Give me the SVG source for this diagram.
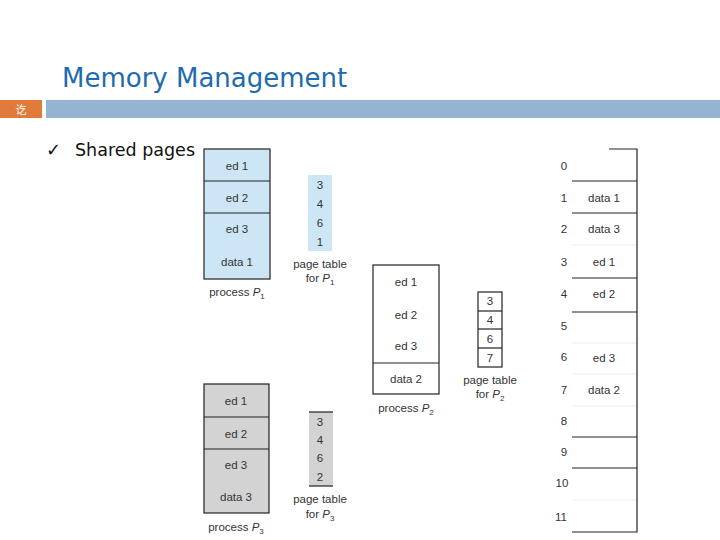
<svg xmlns="http://www.w3.org/2000/svg" width="720" height="540" viewBox="0 0 720 540">
<style>
.t{font-family:"Liberation Sans",Arial,sans-serif;font-size:11.5px;fill:#333;text-anchor:middle}
.ln{stroke:#222;stroke-width:1.2;fill:none}
.fl{stroke:#eee;stroke-width:1}
.blue{fill:#CDE6F5}
.gray{fill:#D3D3D3}
</style>
<rect width="720" height="540" fill="#fff"/>
<g id="header">
<text x="62" y="87" font-family="'DejaVu Sans',Verdana,sans-serif" font-size="26" fill="#1F6BB0">Memory Management</text>
<rect x="0" y="100" width="42" height="18" fill="#E07B3C"/>
<text x="21" y="114" font-family="'Noto Sans CJK SC',sans-serif" font-size="11" fill="#fff" text-anchor="middle">讫</text>
<rect x="46" y="100" width="674" height="18" fill="#95B3D3"/>
<text x="46" y="156" font-family="'DejaVu Sans',sans-serif" font-size="18" fill="#111">✓</text>
<text x="75" y="156" font-family="'DejaVu Sans',Verdana,sans-serif" font-size="17.5" fill="#111">Shared pages</text>
</g>
<g id="process-p1">
<rect x="204" y="149" width="66" height="130" class="blue"/>
<rect x="204" y="149" width="66" height="130" class="ln"/>
<line x1="204" y1="181" x2="270" y2="181" class="ln"/>
<line x1="204" y1="213" x2="270" y2="213" class="ln"/>
<text x="237" y="170" class="t">ed 1</text>
<text x="237" y="202" class="t">ed 2</text>
<text x="237" y="233" class="t">ed 3</text>
<text x="237" y="266" class="t">data 1</text>
<text x="237" y="296" class="t">process <tspan font-style="italic">P</tspan><tspan font-size="8" dy="3">1</tspan></text>
</g>
<g id="pagetable-p1">
<rect x="308" y="175" width="24" height="76" class="blue"/>
<text x="320" y="189" class="t">3</text>
<text x="320" y="208" class="t">4</text>
<text x="320" y="227" class="t">6</text>
<text x="320" y="246" class="t">1</text>
<text x="320" y="268" class="t">page table</text>
<text x="320" y="282" class="t">for <tspan font-style="italic">P</tspan><tspan font-size="8" dy="3">1</tspan></text>
</g>
<g id="process-p2">
<rect x="373" y="265" width="66" height="129" fill="#fff"/>
<rect x="373" y="265" width="66" height="129" class="ln"/>
<line x1="373" y1="363" x2="439" y2="363" class="ln"/>
<text x="406" y="286" class="t">ed 1</text>
<text x="406" y="319" class="t">ed 2</text>
<text x="406" y="350" class="t">ed 3</text>
<text x="406" y="383" class="t">data 2</text>
<text x="406" y="412" class="t">process <tspan font-style="italic">P</tspan><tspan font-size="8" dy="3">2</tspan></text>
</g>
<g id="pagetable-p2">
<rect x="478" y="292" width="24" height="75" class="ln"/>
<line x1="478" y1="311" x2="502" y2="311" class="ln"/>
<line x1="478" y1="329" x2="502" y2="329" class="ln"/>
<line x1="478" y1="348" x2="502" y2="348" class="ln"/>
<text x="490" y="305" class="t">3</text>
<text x="490" y="324" class="t">4</text>
<text x="490" y="343" class="t">6</text>
<text x="490" y="362" class="t">7</text>
<text x="490" y="384" class="t">page table</text>
<text x="490" y="398" class="t">for <tspan font-style="italic">P</tspan><tspan font-size="8" dy="3">2</tspan></text>
</g>
<g id="process-p3">
<rect x="204" y="384" width="65" height="129" class="gray"/>
<rect x="204" y="384" width="65" height="129" class="ln"/>
<line x1="204" y1="417" x2="269" y2="417" class="ln"/>
<line x1="204" y1="449" x2="269" y2="449" class="ln"/>
<text x="236" y="405" class="t">ed 1</text>
<text x="236" y="438" class="t">ed 2</text>
<text x="236" y="469" class="t">ed 3</text>
<text x="236" y="501" class="t">data 3</text>
<text x="236" y="531" class="t">process <tspan font-style="italic">P</tspan><tspan font-size="8" dy="3">3</tspan></text>
</g>
<g id="pagetable-p3">
<rect x="309" y="412" width="24" height="74" class="gray"/>
<line x1="309" y1="412" x2="333" y2="412" class="ln"/>
<line x1="309" y1="486" x2="333" y2="486" class="ln"/>
<text x="320" y="426" class="t">3</text>
<text x="320" y="444" class="t">4</text>
<text x="320" y="462" class="t">6</text>
<text x="320" y="481" class="t">2</text>
<text x="320" y="503" class="t">page table</text>
<text x="320" y="518" class="t">for <tspan font-style="italic">P</tspan><tspan font-size="8" dy="3">3</tspan></text>
</g>
<g id="physical-memory">
<line x1="572" y1="245" x2="637" y2="245" class="fl"/>
<line x1="572" y1="343" x2="637" y2="343" class="fl"/>
<line x1="572" y1="374" x2="637" y2="374" class="fl"/>
<line x1="572" y1="406" x2="637" y2="406" class="fl"/>
<line x1="572" y1="500" x2="637" y2="500" class="fl"/>
<polyline points="609,149 637,149 637,532 572,532" class="ln"/>
<line x1="572" y1="181" x2="637" y2="181" class="ln"/>
<line x1="572" y1="213" x2="637" y2="213" class="ln"/>
<line x1="572" y1="278" x2="637" y2="278" class="ln"/>
<line x1="572" y1="312" x2="637" y2="312" class="ln"/>
<line x1="572" y1="437" x2="637" y2="437" class="ln"/>
<line x1="572" y1="468" x2="637" y2="468" class="ln"/>
<text x="564" y="170" class="t">0</text>
<text x="564" y="202" class="t">1</text>
<text x="564" y="233" class="t">2</text>
<text x="564" y="266" class="t">3</text>
<text x="564" y="298" class="t">4</text>
<text x="564" y="330" class="t">5</text>
<text x="564" y="361" class="t">6</text>
<text x="564" y="394" class="t">7</text>
<text x="564" y="425" class="t">8</text>
<text x="564" y="456" class="t">9</text>
<text x="562" y="487" class="t">10</text>
<text x="561" y="521" class="t">11</text>
<text x="604" y="202" class="t">data 1</text>
<text x="604" y="233" class="t">data 3</text>
<text x="604" y="266" class="t">ed 1</text>
<text x="604" y="298" class="t">ed 2</text>
<text x="604" y="362" class="t">ed 3</text>
<text x="604" y="394" class="t">data 2</text>
</g>
</svg>
